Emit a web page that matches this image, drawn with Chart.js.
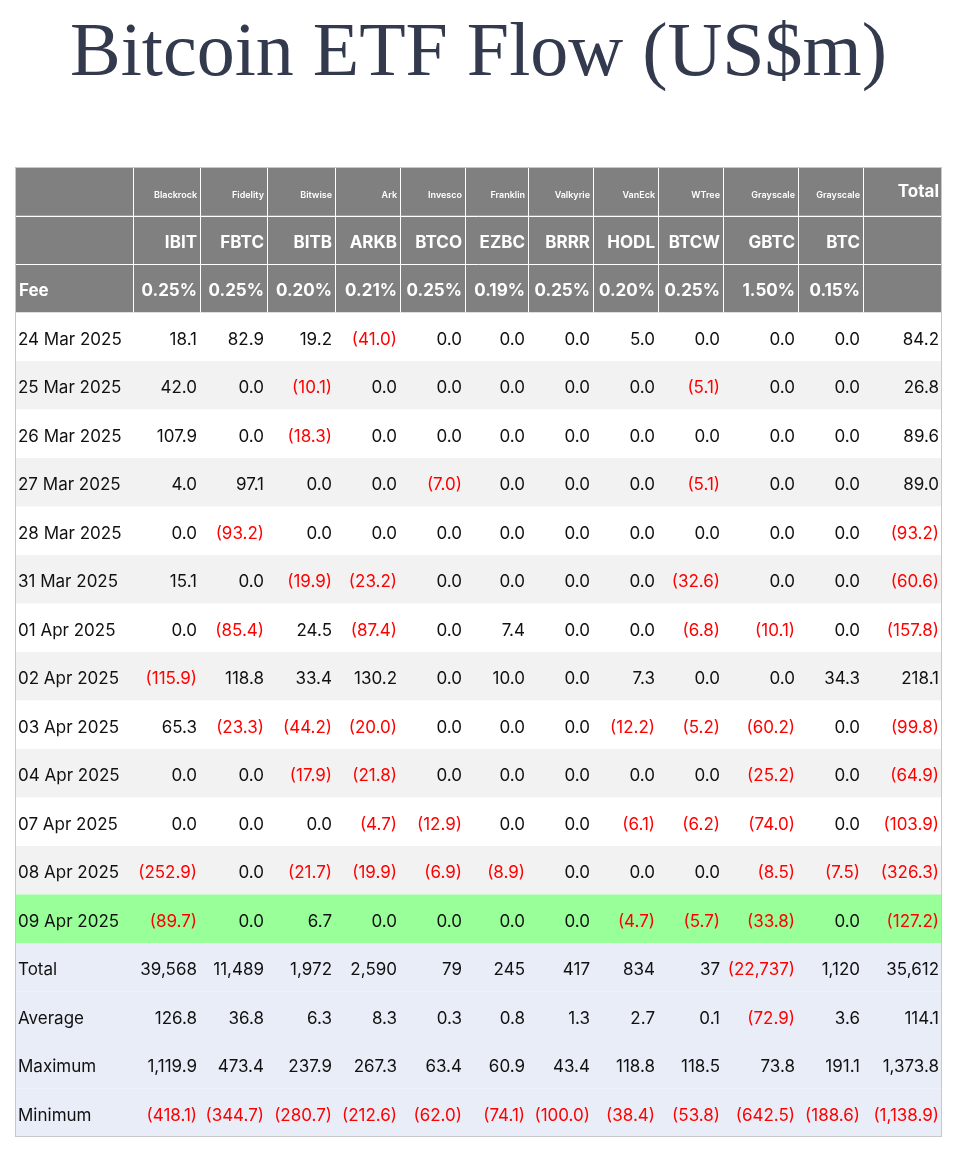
<!DOCTYPE html>
<html><head><meta charset="utf-8">
<script src="https://cdn.jsdelivr.net/npm/chart.js@4"></script>
<style>html,body{margin:0;padding:0;background:#fff}#wrap{width:962px;height:1152px}</style>
</head><body><div id="wrap"><canvas id="c"></canvas></div>
<script>
const issuers=['Blackrock','Fidelity','Bitwise','Ark','Invesco','Franklin','Valkyrie','VanEck','WTree','Grayscale','Grayscale'];
const tickers=['IBIT','FBTC','BITB','ARKB','BTCO','EZBC','BRRR','HODL','BTCW','GBTC','BTC'];
const fees=['0.25%','0.25%','0.20%','0.21%','0.25%','0.19%','0.25%','0.20%','0.25%','1.50%','0.15%'];
const dates=['24 Mar 2025','25 Mar 2025','26 Mar 2025','27 Mar 2025','28 Mar 2025','31 Mar 2025','01 Apr 2025','02 Apr 2025','03 Apr 2025','04 Apr 2025','07 Apr 2025','08 Apr 2025','09 Apr 2025'];
const flows=[
[18.1,82.9,19.2,-41.0,0,0,0,5.0,0,0,0,84.2],
[42.0,0,-10.1,0,0,0,0,0,-5.1,0,0,26.8],
[107.9,0,-18.3,0,0,0,0,0,0,0,0,89.6],
[4.0,97.1,0,0,-7.0,0,0,0,-5.1,0,0,89.0],
[0,-93.2,0,0,0,0,0,0,0,0,0,-93.2],
[15.1,0,-19.9,-23.2,0,0,0,0,-32.6,0,0,-60.6],
[0,-85.4,24.5,-87.4,0,7.4,0,0,-6.8,-10.1,0,-157.8],
[-115.9,118.8,33.4,130.2,0,10.0,0,7.3,0,0,34.3,218.1],
[65.3,-23.3,-44.2,-20.0,0,0,0,-12.2,-5.2,-60.2,0,-99.8],
[0,0,-17.9,-21.8,0,0,0,0,0,-25.2,0,-64.9],
[0,0,0,-4.7,-12.9,0,0,-6.1,-6.2,-74.0,0,-103.9],
[-252.9,0,-21.7,-19.9,-6.9,-8.9,0,0,0,-8.5,-7.5,-326.3],
[-89.7,0,6.7,0,0,0,0,-4.7,-5.7,-33.8,0,-127.2]];
const summaryLabels=['Total','Average','Maximum','Minimum'];
const totals=[39568,11489,1972,2590,79,245,417,834,37,-22737,1120,35612];
const averages=[126.8,36.8,6.3,8.3,0.3,0.8,1.3,2.7,0.1,-72.9,3.6,114.1];
const maxima=[1119.9,473.4,237.9,267.3,63.4,60.9,43.4,118.8,118.5,73.8,191.1,1373.8];
const minima=[-418.1,-344.7,-280.7,-212.6,-62.0,-74.1,-100.0,-38.4,-53.8,-642.5,-188.6,-1138.9];

const colEdges=[15,133,200,267,335,400,465,528,593,658,723,798,863,942];
const highlightRow=12;
function fmt(v,d){const s=Math.abs(v).toLocaleString('en-US',{minimumFractionDigits:d,maximumFractionDigits:d});return v<0?'('+s+')':s;}

const tablePlugin={id:'table',afterDraw(chart){
 const ctx=chart.ctx,X=chart.scales.x,Y=chart.scales.y;
 const xl=X.getPixelForValue(colEdges[0]),xr=X.getPixelForValue(colEdges[colEdges.length-1]);
 const rowTop=r=>Y.getPixelForValue(r),rowMid=r=>(Y.getPixelForValue(r)+Y.getPixelForValue(r+1))/2;
 const nData=dates.length,nRows=3+nData+4;
 ctx.save();
 for(let r=0;r<nRows;r++){
  let bg;
  if(r<3)bg='#808080';
  else if(r-3===highlightRow)bg='#99ff99';
  else if(r>=3+nData)bg='#e9edf7';
  else bg=((r-3)%2===0)?'#ffffff':'#f2f2f2';
  ctx.fillStyle=bg;ctx.fillRect(xl,rowTop(r),xr-xl,rowTop(r+1)-rowTop(r));
 }
 ctx.strokeStyle='#ffffff';ctx.lineWidth=1;
 for(let i=1;i<colEdges.length-1;i++){const x=Math.round(X.getPixelForValue(colEdges[i]))+0.5;ctx.beginPath();ctx.moveTo(x,rowTop(0));ctx.lineTo(x,rowTop(3));ctx.stroke();}
 for(let r=1;r<3;r++){const y=Math.round(rowTop(r))+0.5;ctx.beginPath();ctx.moveTo(xl,y);ctx.lineTo(xr,y);ctx.stroke();}
 ctx.strokeStyle='#c8c8c8';ctx.strokeRect(xl+0.5,rowTop(0)+0.5,xr-xl-1,rowTop(nRows)-rowTop(0)-1);
 ctx.textBaseline='middle';
 const right=i=>X.getPixelForValue(colEdges[i+1])-3;
 ctx.fillStyle='#fff';ctx.textAlign='right';
 ctx.font='600 9px Inter';
 issuers.forEach((s,i)=>ctx.fillText(s,right(i+1),rowMid(0)+4));
 ctx.font='bold 17px Inter';
 ctx.fillText('Total',right(12),rowMid(0)+1);
 tickers.forEach((s,i)=>ctx.fillText(s,right(i+1),rowMid(1)+3));
 fees.forEach((s,i)=>ctx.fillText(s,right(i+1),rowMid(2)+3));
 ctx.textAlign='left';ctx.fillText('Fee',19,rowMid(2)+3);
 ctx.font='17px Inter';
 const drawRow=(r,label,vals,d)=>{
  ctx.textAlign='left';ctx.fillStyle='#111';ctx.fillText(label,18,rowMid(r)+3);
  ctx.textAlign='right';
  vals.forEach((v,i)=>{ctx.fillStyle=v<0?'#ff0000':'#111';ctx.fillText(fmt(v,d),right(i+1),rowMid(r)+3);});
 };
 dates.forEach((dt,k)=>drawRow(3+k,dt,flows[k],1));
 const sums=[totals,averages,maxima,minima];
 summaryLabels.forEach((l,k)=>drawRow(3+nData+k,l,sums[k],k===0?0:1));
 ctx.restore();
}};

new Chart(document.getElementById('c'),{
 type:'scatter',
 data:{datasets:[{data:[],pointRadius:0}]},
 options:{responsive:true,maintainAspectRatio:false,animation:false,
  layout:{padding:{left:15,right:20,top:0,bottom:15}},
  plugins:{legend:{display:false},tooltip:{enabled:false},
   title:{display:true,text:'Bitcoin ETF Flow (US$m)',color:'#343a4e',font:{family:'Liberation Serif',size:76,weight:'normal',lineHeight:1.2},padding:{top:9,bottom:66.8}}},
  scales:{x:{type:'linear',min:15,max:942,display:false},y:{type:'linear',min:0,max:20,reverse:true,display:false}}},
 plugins:[tablePlugin]});
</script></body></html>
